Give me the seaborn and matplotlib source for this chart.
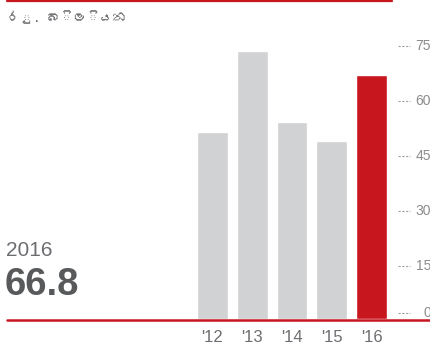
import numpy as np
import pandas as pd
import matplotlib
matplotlib.use("Agg")
import matplotlib.pyplot as plt
from matplotlib import font_manager
from matplotlib.ft2font import FT2Font
import seaborn as sns

years = ["'12", "'13", "'14", "'15", "'16"]
values = [51.1, 73.4, 53.9, 48.7, 66.8]
y_ticks = [0, 15, 30, 45, 60, 75]
unit_label = "රු. බිලියන"
headline_year = "2016"
headline_value = 66.8

GREY_BAR = "#d1d2d4"
RED = "#c8161e"
TEXT = "#6d6e71"


def sinhala_family():
    """Find an installed family that covers Sinhala glyphs."""
    for path in font_manager.findSystemFonts():
        try:
            cmap = FT2Font(path).get_charmap()
        except Exception:
            continue
        if ord("බ") in cmap:
            return font_manager.FontProperties(fname=path).get_name()
    return None


sns.set_theme(style="white")
plt.rcParams["font.family"] = ["Liberation Sans", "DejaVu Sans"]

W, H = 431, 344
fig = plt.figure(figsize=(W / 100, H / 100), dpi=100)
ax = fig.add_axes([0, 0, 1, 1])

# pixel geometry of the category / value axes
x0_px, pitch_px = 212.5, 39.75
y0_px, unit_px = 319.0, 3.653

df = pd.DataFrame({"year": years, "value": values})
palette = [GREY_BAR] * (len(years) - 1) + [RED]
sns.barplot(data=df, x="year", y="value", hue="year", palette=palette,
            width=0.77, legend=False, ax=ax, saturation=1)
ax.set_xlim(-x0_px / pitch_px, (W - x0_px) / pitch_px)
ax.set_ylim(-(H - y0_px) / unit_px, y0_px / unit_px)
ax.axis("off")


def px_to_x(px):
    return (px - x0_px) / pitch_px


def px_to_y(py):
    return (y0_px - py) / unit_px


# value ticks on the right: short dashed leader + number
for t in y_ticks:
    ty = px_to_y(313) if t == 0 else t - 0.4
    ax.plot([px_to_x(398), px_to_x(410)], [ty, ty], color="#a0a0a0",
            lw=0.8, linestyle=(0, (2.0, 1.4)), solid_capstyle="butt")
    ax.text(px_to_x(431), ty, str(t), ha="right", va="center",
            fontsize=10, color="#8c8c8c")

# category labels below the baseline
for i, lab in enumerate(years):
    ax.text(i, px_to_y(337), lab, ha="center", va="center",
            fontsize=12, color=TEXT)

# baseline and top rule
fig.add_artist(plt.Line2D([7 / W, 1.0], [1 - 319.5 / H] * 2, color=RED, lw=1.8))
fig.add_artist(plt.Line2D([7 / W, 392 / W], [1 - 0.8 / H] * 2, color=RED, lw=1.6))

# headline figure
fig.text(6 / W, 1 - 250 / H, headline_year, ha="left", va="center",
         fontsize=15, color=TEXT)
fig.text(5 / W, 1 - 285 / H, f"{headline_value:.1f}", ha="left", va="center",
         fontsize=27.5, fontweight="bold", color="#58595b")

fam = sinhala_family()
fams = ([fam] if fam else []) + ["Liberation Sans", "DejaVu Sans"]
fig.text(7 / W, 1 - 17 / H, unit_label, ha="left", va="center",
         fontsize=9.5, color=TEXT, family=fams)

fig.savefig("out.png", dpi=100)
